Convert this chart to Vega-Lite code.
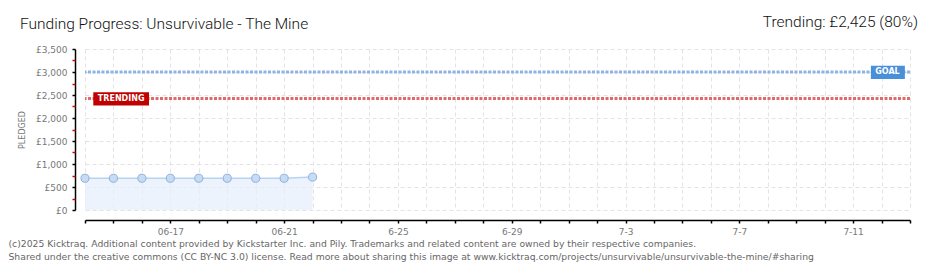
{
  "$schema": "https://vega.github.io/schema/vega-lite/v6.json",
  "width": 825,
  "height": 161,
  "autosize": {"type": "none"},
  "padding": {"left": 85, "top": 49, "right": 30, "bottom": 60},
  "background": "white",
  "config": {"view": {"stroke": null}, "font": "DejaVu Sans"},
  "datasets": {
    "pledged": [
      {"date": "2025-06-14", "pledged": 690},
      {"date": "2025-06-15", "pledged": 690},
      {"date": "2025-06-16", "pledged": 690},
      {"date": "2025-06-17", "pledged": 690},
      {"date": "2025-06-18", "pledged": 690},
      {"date": "2025-06-19", "pledged": 690},
      {"date": "2025-06-20", "pledged": 690},
      {"date": "2025-06-21", "pledged": 690},
      {"date": "2025-06-22", "pledged": 715}
    ],
    "refs": [
      {"name": "GOAL", "amount": 3000},
      {"name": "TRENDING", "amount": 2425}
    ]
  },
  "resolve": {"axis": {"y": "independent"}},
  "layer": [
    {
      "data": {"name": "pledged"},
      "mark": {"type": "area", "color": "#e6effb", "opacity": 0.75},
      "encoding": {
        "x": {
          "field": "date",
          "type": "temporal",
          "scale": {
            "type": "utc",
            "domain": [
              {"year": 2025, "month": 6, "date": 14, "utc": true},
              {"year": 2025, "month": 7, "date": 13, "utc": true}
            ]
          },
          "axis": {
            "title": [
              "(c)2025 Kicktraq. Additional content provided by Kickstarter Inc. and Pily. Trademarks and related content are owned by their respective companies.",
              "Shared under the creative commons (CC BY-NC 3.0) license. Read more about sharing this image at www.kicktraq.com/projects/unsurvivable/unsurvivable-the-mine/#sharing"
            ],
            "titleAnchor": "start",
            "titleAlign": "left",
            "titleX": -77,
            "titleY": 26,
            "titleBaseline": "alphabetic",
            "titleFontSize": 9.25,
            "titleFontWeight": "normal",
            "titleColor": "#666666",
            "titleLineHeight": 13,
            "offset": 10,
            "domainColor": "#000000",
            "domainWidth": 1.5,
            "tickColor": "#000000",
            "tickWidth": 1.5,
            "tickSize": 3,
            "tickCount": {"interval": "day", "step": 1},
            "labelOverlap": false,
            "labelExpr": "round((datum.value - 1750118400000) / 86400000) % 4 == 0 ? (datum.value < 1750550400000 ? utcFormat(datum.value, '%m-%d') : utcFormat(datum.value, '%-m-%-d')) : ''",
            "labelColor": "#777777",
            "labelFontSize": 9,
            "labelPadding": 4,
            "gridColor": "#e3e3e3",
            "gridDash": [4, 3]
          }
        },
        "y": {
          "field": "pledged",
          "type": "quantitative",
          "scale": {"domain": [0, 3500], "nice": false},
          "axis": {
            "values": [0, 500, 1000, 1500, 2000, 2500, 3000, 3500],
            "labelExpr": "'£' + format(datum.value, ',')",
            "title": "PLEDGED",
            "titleFontSize": 8,
            "titleFontWeight": "normal",
            "titleColor": "#777777",
            "titlePadding": 9,
            "offset": 10,
            "domainColor": "#000000",
            "domainWidth": 1.5,
            "tickColor": "#000000",
            "tickWidth": 1.5,
            "tickSize": 3,
            "labelColor": "#777777",
            "labelFontSize": 9,
            "labelPadding": 5,
            "gridColor": "#e3e3e3",
            "gridDash": [4, 3]
          }
        }
      }
    },
    {
      "data": {"name": "pledged"},
      "mark": {"type": "line", "color": "#b6d3f2", "strokeWidth": 1.5},
      "encoding": {
        "x": {"field": "date", "type": "temporal"},
        "y": {"field": "pledged", "type": "quantitative", "axis": null}
      }
    },
    {
      "data": {"name": "pledged"},
      "mark": {"type": "point", "shape": "circle", "filled": true, "size": 65, "fill": "#c6dcf5", "stroke": "#8fb0da", "strokeWidth": 1, "opacity": 1},
      "encoding": {
        "x": {"field": "date", "type": "temporal"},
        "y": {"field": "pledged", "type": "quantitative", "axis": null}
      }
    },
    {
      "data": {"name": "refs"},
      "mark": {"type": "rule", "strokeWidth": 3, "strokeDash": [3, 1.5]},
      "encoding": {
        "y": {
          "field": "amount",
          "type": "quantitative",
          "axis": {
            "orient": "left",
            "offset": 10,
            "values": [250, 750, 1250, 1750, 2250, 2750, 3250],
            "labels": false,
            "domain": false,
            "grid": false,
            "title": null,
            "tickColor": "#dd0000",
            "tickWidth": 1.5,
            "tickSize": 3
          }
        },
        "color": {
          "field": "name",
          "type": "nominal",
          "scale": {"domain": ["GOAL", "TRENDING"], "range": ["#8db4e3", "#e06a6a"]},
          "legend": null
        }
      }
    },
    {
      "data": {"values": [{}]},
      "mark": {"type": "rect", "color": "#c00000"},
      "encoding": {
        "x": {"datum": {"year": 2025, "month": 6, "date": 14, "hours": 7, "utc": true}, "type": "temporal"},
        "x2": {"datum": {"year": 2025, "month": 6, "date": 16, "hours": 6, "utc": true}},
        "y": {"datum": 2560, "type": "quantitative", "axis": null},
        "y2": {"datum": 2270}
      }
    },
    {
      "data": {"values": [{}]},
      "mark": {"type": "rect", "color": "#4a8fd9"},
      "encoding": {
        "x": {"datum": {"year": 2025, "month": 7, "date": 11, "hours": 15, "utc": true}, "type": "temporal"},
        "x2": {"datum": {"year": 2025, "month": 7, "date": 12, "hours": 19, "minutes": 40, "utc": true}},
        "y": {"datum": 3135, "type": "quantitative", "axis": null},
        "y2": {"datum": 2850}
      }
    },
    {
      "data": {"values": [{}]},
      "mark": {"type": "text", "text": "TRENDING", "color": "white", "fontWeight": "bold", "fontSize": 8, "align": "center", "baseline": "middle"},
      "encoding": {
        "x": {"datum": {"year": 2025, "month": 6, "date": 15, "hours": 6, "minutes": 30, "utc": true}, "type": "temporal"},
        "y": {"datum": 2415, "type": "quantitative", "axis": null}
      }
    },
    {
      "data": {"values": [{}]},
      "mark": {"type": "text", "text": "GOAL", "color": "white", "fontWeight": "bold", "fontSize": 8, "align": "center", "baseline": "middle"},
      "encoding": {
        "x": {"datum": {"year": 2025, "month": 7, "date": 12, "hours": 5, "utc": true}, "type": "temporal"},
        "y": {"datum": 2992, "type": "quantitative", "axis": null}
      }
    },
    {
      "data": {"values": [{}]},
      "mark": {"type": "text", "text": "Funding Progress: Unsurvivable - The Mine", "color": "#111111", "fontSize": 15.5, "font": "Roboto", "fontWeight": 300, "align": "left", "baseline": "alphabetic", "dx": -65, "dy": -20},
      "encoding": {
        "x": {"datum": {"year": 2025, "month": 6, "date": 14, "utc": true}, "type": "temporal"},
        "y": {"datum": 3500, "type": "quantitative", "axis": null}
      }
    },
    {
      "data": {"values": [{}]},
      "mark": {"type": "text", "text": "Trending: £2,425 (80%)", "color": "#111111", "fontSize": 15.5, "font": "Roboto", "fontWeight": 300, "align": "right", "baseline": "alphabetic", "dx": 8, "dy": -22},
      "encoding": {
        "x": {"datum": {"year": 2025, "month": 7, "date": 13, "utc": true}, "type": "temporal"},
        "y": {"datum": 3500, "type": "quantitative", "axis": null}
      }
    }
  ]
}
